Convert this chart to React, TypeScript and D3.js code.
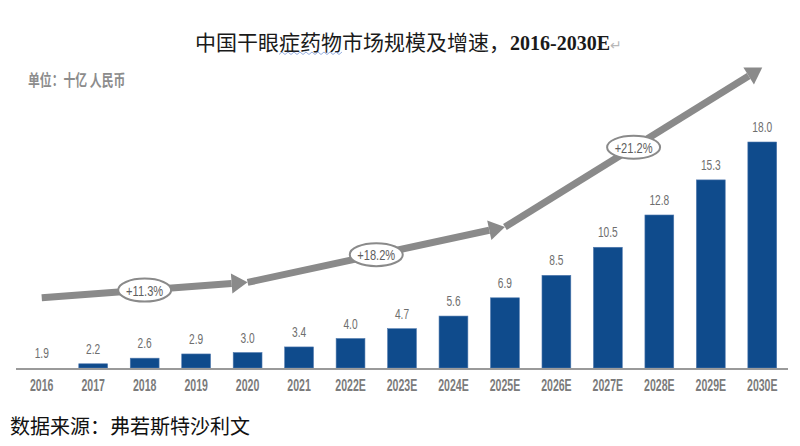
import React from "react";
import * as d3 from "d3";

const categories = ["2016","2017","2018","2019","2020","2021","2022E","2023E","2024E","2025E","2026E","2027E","2028E","2029E","2030E"];
const marketSize = [1.9,2.2,2.6,2.9,3.0,3.4,4.0,4.7,5.6,6.9,8.5,10.5,12.8,15.3,18.0];
const growthLabels = ["+11.3%","+18.2%","+21.2%"];
const growthFrom = ["2016","2020","2025E"];
const growthTo = ["2020","2025E","2030E"];
const growthStartY = [6.9, 8.0, 11.95];
const growthEndY = [8.0, 11.95, 23.3];

const W = 800, H = 446;
const BASE = 368;
const NUM_FONT = "'Liberation Sans', Arial, sans-serif";
const CJK_FONT = "'Noto Sans CJK SC', sans-serif";

export default function App() {
  const x = d3.scaleBand<string>().domain(categories).range([16, 788]).paddingInner(0.44).paddingOuter(0.22);
  const y = d3.scaleLinear().domain([1.9, 18.0]).range([BASE, 142]);
  const cx = (c: string) => (x(c) ?? 0) + x.bandwidth() / 2;

  const arrows = growthLabels.map((label, i) => {
    const x0 = cx(growthFrom[i]);
    const x1 = cx(growthTo[i]);
    const y0 = y(growthStartY[i]);
    const y1 = y(growthEndY[i]);
    const ang = Math.atan2(y1 - y0, x1 - x0);
    const headLen = 16, headHalf = 10;
    const bx = x1 - headLen * Math.cos(ang);
    const by = y1 - headLen * Math.sin(ang);
    const nx = -Math.sin(ang), ny = Math.cos(ang);
    const head = d3.line()([
      [x1, y1],
      [bx + nx * headHalf, by + ny * headHalf],
      [bx - nx * headHalf, by - ny * headHalf],
    ]) + "Z";
    const mx = (x0 + x1) / 2, my = (y0 + y1) / 2;
    return { label, x0, y0, bx, by, head, mx, my };
  });

  return (
    <svg width={W} height={H} viewBox={`0 0 ${W} ${H}`} style={{ position: "absolute", left: 0, top: 0, background: "#fff" }}>
      <rect width={W} height={H} fill="#fff" />
      {/* Title */}
      <text x={195} y={50} fontSize={21} fill="#1a1a1a" fontFamily={CJK_FONT}>
        中国干眼症药物市场规模及增速，
        <tspan fontFamily="'Liberation Serif', 'Times New Roman', serif" fontWeight="bold" fontSize={20}>2016-2030E</tspan>
        <tspan fill="#b8b8b8" fontSize={14} fontFamily="'DejaVu Sans', sans-serif">↵</tspan>
      </text>
      <path
        d={d3.range(0, 64, 3).map((d, i) => `${i === 0 ? "M" : "L"}${279 + d},${i % 2 ? 52 : 54.5}`).join("")}
        fill="none" stroke="#8aa6dc" strokeWidth={0.9}
      />
      {/* Unit */}
      <text transform="translate(28,86) scale(0.74,1)" fontSize={16} fontWeight="bold" fill="#8c8c8c" fontFamily={CJK_FONT}>
        单位：十亿 人民币
      </text>

      {/* Bars */}
      {categories.map((c, i) => (
        <rect key={c} x={x(c)} y={y(marketSize[i])} width={x.bandwidth()} height={BASE - y(marketSize[i])}
          fill="#0f4b8c" stroke="#4f78ad" strokeWidth={0.6} />
      ))}
      {/* Value labels */}
      {categories.map((c, i) => (
        <text key={c} transform={`translate(${cx(c)},${y(marketSize[i]) - 10}) scale(0.68,1)`} textAnchor="middle"
          fontSize={15} fill="#6e6e6e" fontFamily={NUM_FONT}>
          {marketSize[i].toFixed(1)}
        </text>
      ))}
      {/* Axis */}
      <line x1={16} x2={788} y1={BASE + 1} y2={BASE + 1} stroke="#9a9a9a" strokeWidth={2} />
      {categories.map((c) => (
        <text key={c} transform={`translate(${cx(c)},391) scale(0.64,1)`} textAnchor="middle"
          fontSize={16.5} fontWeight="bold" fill="#7b7b7b" fontFamily={NUM_FONT}>
          {c}
        </text>
      ))}

      {/* Growth arrows */}
      {arrows.map((a) => (
        <g key={a.label}>
          <line x1={a.x0} y1={a.y0} x2={a.bx} y2={a.by} stroke="#8a8a8a" strokeWidth={7} />
          <path d={a.head} fill="#8a8a8a" />
        </g>
      ))}
      {arrows.map((a) => (
        <g key={a.label + "l"}>
          <ellipse cx={a.mx} cy={a.my} rx={26.5} ry={11.5} fill="#fff" stroke="#8a8a8a" strokeWidth={2} />
          <text transform={`translate(${a.mx},${a.my + 5.5}) scale(0.74,1)`} textAnchor="middle" fontSize={15}
            fill="#5e5e5e" fontFamily={NUM_FONT}>
            {a.label}
          </text>
        </g>
      ))}

      {/* Source */}
      <text x={10} y={434} fontSize={20} fill="#111" fontFamily={CJK_FONT}>数据来源：弗若斯特沙利文</text>
    </svg>
  );
}
